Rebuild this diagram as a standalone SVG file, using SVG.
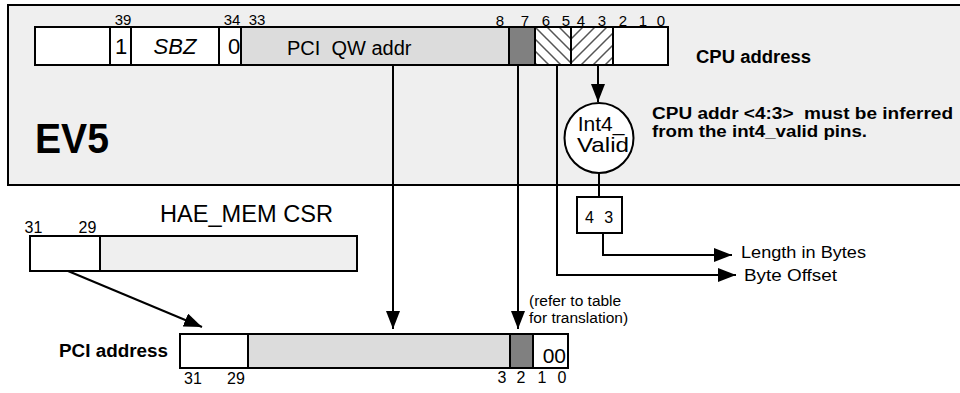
<svg xmlns="http://www.w3.org/2000/svg" width="960" height="393" viewBox="0 0 960 393">
<style>
.t{font-family:"Liberation Sans",Arial,sans-serif;fill:#000}
.b{font-family:"Liberation Sans",Arial,sans-serif;font-weight:bold;fill:#000}
.s{stroke:#000;stroke-width:2}
.c{fill:none;stroke:#000;stroke-width:2}
</style>
<defs>
<marker id="ah" markerUnits="userSpaceOnUse" markerWidth="18" markerHeight="14" refX="18" refY="7" orient="auto"><path d="M0,0 L18,7 L0,14 z" fill="#000"/></marker>
<pattern id="hb" patternUnits="userSpaceOnUse" x="535" y="27" width="12" height="12"><path d="M-3,-3 L15,15 M-3,9 L3,15 M9,-3 L15,3" stroke="#555" stroke-width="1.5"/></pattern>
<pattern id="hf" patternUnits="userSpaceOnUse" x="571" y="27" width="12" height="12"><path d="M-3,15 L15,-3 M-3,3 L3,-3 M9,15 L15,9" stroke="#555" stroke-width="1.5"/></pattern>
</defs>
<g id="ev5">
<rect x="8" y="5" width="970" height="180" fill="#efefef" class="s"/>
<text class="b" x="35" y="153" font-size="42" textLength="74" lengthAdjust="spacingAndGlyphs">EV5</text>
</g>
<g id="connectors">
<path class="c" d="M393,65 V329" marker-end="url(#ah)"/>
<path class="c" d="M518,65 V329" marker-end="url(#ah)"/>
<path class="c" d="M557,65 V275 H736" marker-end="url(#ah)"/>
<path class="c" d="M598,65 V102" marker-end="url(#ah)"/>
<path class="c" d="M599,173 V197"/>
<path class="c" d="M603,233 V255 H732" marker-end="url(#ah)"/>
<path class="c" d="M68,271 L202,327" marker-end="url(#ah)"/>
</g>
<g id="cpu-address">
<rect x="35" y="27" width="75" height="38" fill="#fff" class="s"/>
<rect x="110" y="27" width="21" height="38" fill="#fff" class="s"/>
<rect x="131" y="27" width="88" height="38" fill="#fff" class="s"/>
<rect x="219" y="27" width="22" height="38" fill="#fff" class="s"/>
<rect x="241" y="27" width="268" height="38" fill="#dcdcdc" class="s"/>
<rect x="509" y="27" width="26" height="38" fill="#808080" class="s"/>
<rect x="535" y="27" width="36" height="38" fill="#fff"/>
<rect x="535" y="27" width="36" height="38" fill="url(#hb)" class="s"/>
<rect x="571" y="27" width="42" height="38" fill="#fff"/>
<rect x="571" y="27" width="42" height="38" fill="url(#hf)" class="s"/>
<rect x="613" y="27" width="55" height="38" fill="#fff" class="s"/>
<text class="t" x="121" y="54" font-size="22" text-anchor="middle">1</text>
<text class="t" x="175" y="54" font-size="22" font-style="italic" text-anchor="middle">SBZ</text>
<text class="t" x="234" y="54" font-size="22" text-anchor="middle">0</text>
<text class="t" x="287" y="55" font-size="20" xml:space="preserve">PCI  QW addr</text>
<g class="t" font-size="15" text-anchor="middle">
<text x="123" y="25">39</text>
<text x="232" y="25">34</text>
<text x="257" y="25">33</text>
<text x="500" y="26">8</text>
<text x="525" y="26">7</text>
<text x="546" y="26">6</text>
<text x="566" y="26">5</text>
<text x="581" y="26">4</text>
<text x="602" y="26">3</text>
<text x="623" y="26">2</text>
<text x="643" y="26">1</text>
<text x="661" y="26">0</text>
</g>
<text class="b" x="696" y="63" font-size="18" textLength="115" lengthAdjust="spacingAndGlyphs">CPU address</text>
</g>
<g id="int4-valid">
<ellipse cx="599" cy="138" rx="34.5" ry="35" fill="#fff" class="s"/>
<text class="t" x="601" y="131" font-size="21" text-anchor="middle">Int4_</text>
<text class="t" x="603" y="152" font-size="21" text-anchor="middle" textLength="52" lengthAdjust="spacingAndGlyphs">Valid</text>
</g>
<g id="note">
<text class="b" x="652" y="119" font-size="16" textLength="301" lengthAdjust="spacingAndGlyphs" xml:space="preserve">CPU addr &lt;4:3&gt;  must be inferred</text>
<text class="b" x="652" y="137" font-size="16" textLength="215" lengthAdjust="spacingAndGlyphs">from the int4_valid pins.</text>
</g>
<g id="bits43">
<rect x="577" y="197" width="45" height="36" fill="#fff" class="s"/>
<text class="t" x="599" y="223" font-size="16" text-anchor="middle" word-spacing="6">4 3</text>
</g>
<g id="outputs">
<text class="t" x="741" y="258" font-size="17" textLength="125" lengthAdjust="spacingAndGlyphs">Length in Bytes</text>
<text class="t" x="744" y="281" font-size="17" textLength="93" lengthAdjust="spacingAndGlyphs">Byte Offset</text>
<text class="t" x="529" y="306" font-size="15.5">(refer to table</text>
<text class="t" x="529" y="323" font-size="15.5">for translation)</text>
</g>
<g id="hae-mem">
<rect x="30" y="236" width="70" height="35" fill="#fff" class="s"/>
<rect x="100" y="236" width="257" height="35" fill="#efefef" class="s"/>
<text class="t" x="160" y="222" font-size="23" textLength="173" lengthAdjust="spacingAndGlyphs">HAE_MEM CSR</text>
<text class="t" x="33.5" y="233" font-size="16" text-anchor="middle">31</text>
<text class="t" x="87.5" y="233" font-size="16" text-anchor="middle">29</text>
</g>
<g id="pci-address">
<rect x="180" y="334" width="68" height="34" fill="#fff" class="s"/>
<rect x="248" y="334" width="262" height="34" fill="#dcdcdc" class="s"/>
<rect x="510" y="334" width="23" height="34" fill="#808080" class="s"/>
<rect x="533" y="334" width="35" height="34" fill="#fff" class="s"/>
<text class="t" x="566" y="363" font-size="21" text-anchor="end">00</text>
<text class="b" x="59" y="357" font-size="18" textLength="109" lengthAdjust="spacingAndGlyphs">PCI address</text>
<g class="t" font-size="16" text-anchor="middle">
<text x="193" y="384">31</text>
<text x="236" y="384">29</text>
<text x="502" y="383">3</text>
<text x="521" y="383">2</text>
<text x="542" y="383">1</text>
<text x="562" y="383">0</text>
</g>
</g>
</svg>
